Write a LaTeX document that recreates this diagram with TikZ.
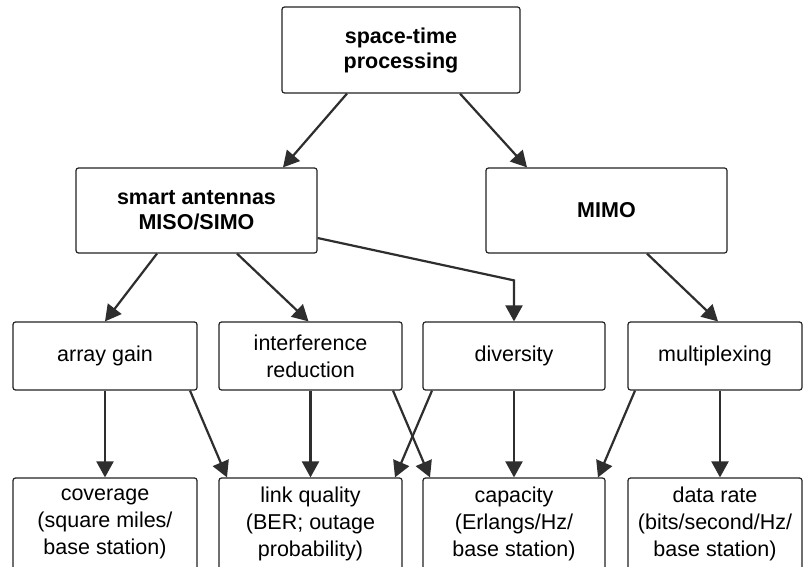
\documentclass[tikz,border=0pt]{standalone}
\usepackage{fontspec}
\setmainfont{Liberation Sans}
\usetikzlibrary{arrows.meta,calc}
\definecolor{boxline}{HTML}{222222}
\definecolor{arrowline}{HTML}{2E2E2E}

\begin{document}
\begin{tikzpicture}[x=1pt,y=-1pt,
  box/.style={draw=boxline, line width=1.2pt, rounded corners=2.5pt, align=center,
    inner sep=0pt, font=\fontsize{21.5}{27}\selectfont},
  hbox/.style={box, font=\fontsize{21.5}{25}\bfseries\selectfont},
  toprow/.style={box, minimum height=68},
  botrow/.style={box, minimum height=92},
  conn/.style={draw=arrowline, line width=2.2pt, -{Triangle[length=16pt,width=17pt]}}]

\clip (0,0) rectangle (803,567);
\fill[white] (0,0) rectangle (803,567);

% top level
\node[hbox, minimum width=238, minimum height=86] (stp) at (401,50) {space-time\\processing};

% second level
\node[hbox, minimum width=241, minimum height=85] (smart) at (196.5,210.5) {smart antennas\\MISO/SIMO};
\node[hbox, minimum width=241, minimum height=85] (mimo) at (606.5,210.5) {MIMO};

% techniques
\node[toprow, minimum width=184] (gain) at (105,356) {array gain};
\node[toprow, minimum width=183] (intf) at (310.5,356) {interference\\reduction};
\node[toprow, minimum width=182] (div) at (514,356) {diversity};
\node[toprow, minimum width=174] (mux) at (715,356) {multiplexing};

% performance measures
\node[botrow, minimum width=184] (cov) at (105,524) {coverage\\(square miles/\\base station)};
\node[botrow, minimum width=183] (lq) at (310.5,524) {link quality\\(BER; outage\\probability)};
\node[botrow, minimum width=182] (cap) at (514,524) {capacity\\(Erlangs/Hz/\\base station)};
\node[botrow, minimum width=174] (rate) at (715,524) {data rate\\(bits/second/Hz/\\base station)};

% connectors from the top
\draw[conn] ([xshift=-54pt]stp.south) -- ([xshift=86.5pt]smart.north);
\draw[conn] ([xshift=59pt]stp.south) -- ([xshift=-79.5pt]mimo.north);

% connectors from the second level
\draw[conn] ([xshift=-39.5pt]smart.south) -- (gain.north);
\draw[conn] ([xshift=40.5pt]smart.south) -- ([xshift=-2pt]intf.north);
\draw[conn] ([yshift=-27.5pt]smart.east) -- ($(div.north)+(0,-41)$) -- (div.north);
\draw[conn] ([xshift=40.5pt]mimo.south) -- ([xshift=3pt]mux.north);

% connectors to the performance measures
\draw[conn] (gain.south) -- (cov.north);
\draw[conn] ([xshift=85pt]gain.south) -- ([xshift=-83.5pt]lq.north);
\draw[conn] (intf.south) -- (lq.north);
\draw[conn] ([xshift=82.5pt]intf.south) -- ([xshift=-84pt]cap.north);
\draw[conn] ([xshift=-82pt]div.south) -- ([xshift=84.5pt]lq.north);
\draw[conn] (div.south) -- (cap.north);
\draw[conn] ([xshift=-80pt]mux.south) -- ([xshift=84pt]cap.north);
\draw[conn] ([xshift=5pt]mux.south) -- ([xshift=5pt]rate.north);
\end{tikzpicture}
\end{document}
